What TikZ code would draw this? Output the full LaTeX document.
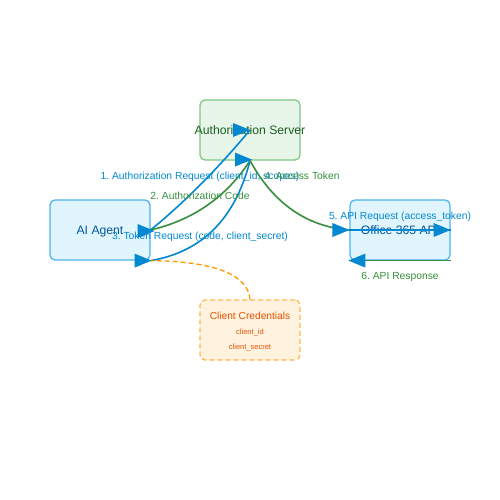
\documentclass[tikz,border=0pt]{standalone}
\usepackage{fontspec}
\setmainfont{Liberation Sans}
\usetikzlibrary{calc}
\frenchspacing
\definecolor{gfill}{HTML}{E8F5E9}
\definecolor{gdraw}{HTML}{81C784}
\definecolor{gtext}{HTML}{1B5E20}
\definecolor{bfill}{HTML}{E1F5FE}
\definecolor{bdraw}{HTML}{4AB3EC}
\definecolor{btext}{HTML}{01579B}
\definecolor{ofill}{HTML}{FFF3E0}
\definecolor{odraw}{HTML}{FFB74D}
\definecolor{otext}{HTML}{E65100}
\definecolor{oline}{HTML}{FF9800}
\definecolor{ablue}{HTML}{0288D1}
\definecolor{agreen}{HTML}{388E3C}
\tikzset{
  box/.style={rectangle, rounded corners=5pt, minimum width=100pt, minimum height=60pt, line width=1.2pt, inner sep=0pt},
  greenbox/.style={box, draw=gdraw, fill=gfill},
  bluebox/.style={box, draw=bdraw, fill=bfill},
  credbox/.style={box, draw=odraw, fill=ofill, dash pattern=on 5pt off 3pt},
  boxtext/.style={anchor=base, inner sep=0pt, font=\fontsize{12.2}{14}\selectfont},
  bluearrow/.style={draw=ablue, line width=1.6pt},
  greenarrow/.style={draw=agreen, line width=1.6pt},
  credline/.style={draw=oline, line width=1.3pt, dash pattern=on 5pt off 3pt},
  lbl/.style={font=\fontsize{10.3}{12}\selectfont, inner sep=0pt, anchor=base},
  bluelbl/.style={lbl, text=ablue},
  greenlbl/.style={lbl, text=agreen},
  headfill/.style={fill=ablue},
}
\newcommand\headR[1]{\fill[headfill] (#1) -- ++(-17,7) -- ++(0,-14) -- cycle;}
\newcommand\headL[1]{\fill[headfill] (#1) -- ++(17,7) -- ++(0,-14) -- cycle;}
\begin{document}
\begin{tikzpicture}[x=1pt,y=-1pt]
\useasboundingbox (0,0) rectangle (500,500);
\fill[white] (0,0) rectangle (500,500);
% nodes
\node[greenbox] (auth) at (250,130) {};
\node[boxtext, text=gtext] (autht) at (250,134.3) {Authorization Server};
\node[bluebox] (agent) at (100,230) {};
\node[boxtext, text=btext] (agentt) at (100,234.3) {AI Agent};
\node[bluebox] (office) at (400,230) {};
\node[boxtext, text=btext] (officet) at (400,234.3) {Office 365 API};
\node[credbox] (cred) at (250,330) {};
\node[text=otext, font=\fontsize{10.2}{12}\selectfont, inner sep=0pt, anchor=base] (credt) at (250,319.7) {Client Credentials};
\node[text=otext, font=\fontsize{7.5}{9}\selectfont, inner sep=0pt, anchor=base] (credid) at (250,334.7) {client\_id};
\node[text=otext, font=\fontsize{7.5}{9}\selectfont, inner sep=0pt, anchor=base] (credsec) at (250,349.7) {client\_secret};
% connectors
\draw[bluearrow] (agent.east) .. controls (183.3,203.3) and (216.7,170) .. (auth.center);
\draw[greenarrow] (auth.south) .. controls (226.7,196.7) and (193.3,220) .. (agent.east);
\draw[bluearrow] (agent.south east) .. controls (202,252) and (235.3,218.7) .. (auth.south);
\draw[greenarrow] (auth.south) .. controls (273.3,203.3) and (306.7,226.7) .. (office.west);
\draw[bluearrow] (office.west) -- (office.east);
\draw[greenarrow] (office.south east) -- (office.south west);
\draw[credline] (cred.north) .. controls (248,274.7) and (214.7,261.3) .. (agent.south east);
% arrowheads
\headR{$(auth.center)+(0,0)$}
\headR{$(auth.south)+(2,-1)$}
\headR{$(agent.east)+(4,1)$}
\headR{$(agent.south east)+(1,0)$}
\headR{office.west}
\headR{office.east}
\headL{$(office.south west)+(-1,0)$}
% labels
\node[bluelbl] (l1) at (200,179.8) {1. Authorization Request (client\_id, scopes)};
\node[greenlbl] (l2) at (200,199.8) {2. Authorization Code};
\node[bluelbl] (l3) at (200,239.8) {3. Token Request (code, client\_secret)};
\node[greenlbl] (l4) at (302,179.8) {4. Access Token};
\node[bluelbl] (l5) at (400,219.8) {5. API Request (access\_token)};
\node[greenlbl] (l6) at (400,279.8) {6. API Response};
\end{tikzpicture}
\end{document}
